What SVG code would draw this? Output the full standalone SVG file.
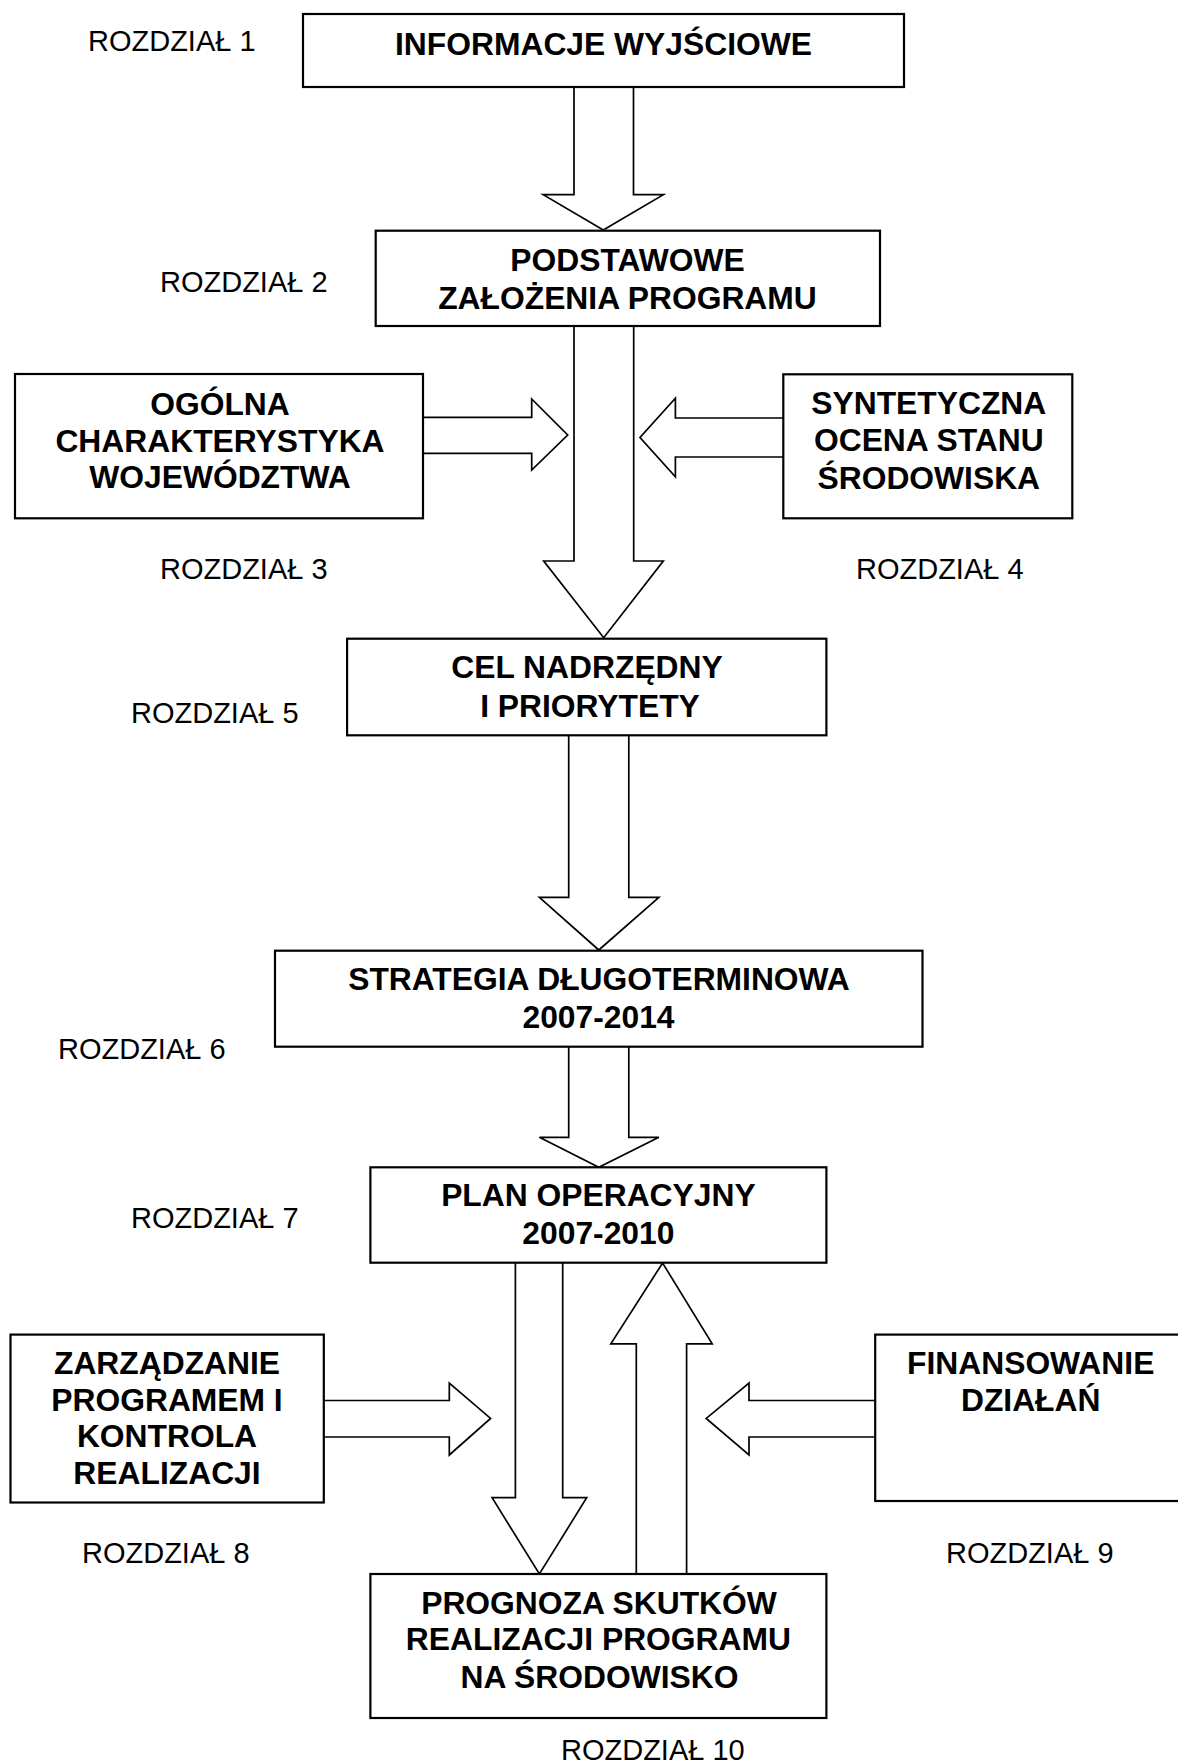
<svg xmlns="http://www.w3.org/2000/svg" width="1178" height="1764" viewBox="0 0 1178 1764">
<style>
.box{fill:#fff;stroke:#000;stroke-width:2.2}
.arr{fill:#fff;stroke:#000;stroke-width:1.7;stroke-linejoin:miter}
.t{font-family:"Liberation Sans",Arial,sans-serif;font-weight:bold;font-size:31.8px;text-anchor:middle;fill:#000}
.r{font-family:"Liberation Sans",Arial,sans-serif;font-size:29px;fill:#000}
</style>
<rect width="1178" height="1764" fill="#fff"/>
<g id="connectors">
<path class="arr" d="M574 87 V194.7 H543.2 L603.3 230 L663.4 194.7 H633.5 V87"/>
<path class="arr" d="M574 326 V561 H543.7 L603.7 637.7 L663.3 561 H633.7 V326"/>
<path class="arr" d="M423 417.3 H531.7 V399 L567.7 435 L531.7 470 V453.3 H423"/>
<path class="arr" d="M783.3 418 H675.4 V398.3 L640 437.5 L675.4 476.7 V457 H783.3"/>
<path class="arr" d="M568.7 735.3 V897.3 H539.4 L598.8 950 L658.9 897.3 H628.8 V735.3"/>
<path class="arr" d="M568.7 1046.7 V1137.3 H539.4 L598.8 1167.3 L658.9 1137.3 H628.8 V1046.7"/>
<path class="arr" d="M515.4 1262.7 V1497.7 H492.1 L539.4 1574 L586.7 1497.7 H562.7 V1262.7"/>
<path class="arr" d="M636.3 1574 V1343.9 H610.8 L662.6 1263 L712.2 1343.9 H686.6 V1574"/>
<path class="arr" d="M323.8 1400.5 H449.3 V1383 L490.6 1418.4 L449.3 1455 V1437 H323.8"/>
<path class="arr" d="M875.2 1400.5 H749 V1383 L706.2 1418.4 L749 1455 V1437 H875.2"/>
</g>
<g id="n1">
<rect class="box" x="303" y="14" width="601" height="73"/>
<text class="t" x="603.5" y="55">INFORMACJE WYJŚCIOWE</text>
</g>
<g id="n2">
<rect class="box" x="375.7" y="230.7" width="504.3" height="95.3"/>
<text class="t" x="627.5" y="270.7">PODSTAWOWE</text>
<text class="t" x="627.5" y="309">ZAŁOŻENIA PROGRAMU</text>
</g>
<g id="n3">
<rect class="box" x="15" y="374" width="408" height="144.3"/>
<text class="t" x="220" y="415">OGÓLNA</text>
<text class="t" x="220" y="451.7">CHARAKTERYSTYKA</text>
<text class="t" x="220" y="488.3">WOJEWÓDZTWA</text>
</g>
<g id="n4">
<rect class="box" x="783.3" y="374.3" width="289" height="144"/>
<text class="t" x="928.8" y="414">SYNTETYCZNA</text>
<text class="t" x="928.8" y="451.3">OCENA STANU</text>
<text class="t" x="928.8" y="489">ŚRODOWISKA</text>
</g>
<g id="n5">
<rect class="box" x="347.1" y="638.7" width="479.3" height="96.6"/>
<text class="t" x="587" y="678.3">CEL NADRZĘDNY</text>
<text class="t" x="590" y="716.7">I PRIORYTETY</text>
</g>
<g id="n6">
<rect class="box" x="275" y="950.7" width="647.5" height="96"/>
<text class="t" x="599" y="990">STRATEGIA DŁUGOTERMINOWA</text>
<text class="t" x="598.5" y="1028.3">2007-2014</text>
</g>
<g id="n7">
<rect class="box" x="370.4" y="1167.3" width="456" height="95.4"/>
<text class="t" x="598.4" y="1206">PLAN OPERACYJNY</text>
<text class="t" x="598.4" y="1244">2007-2010</text>
</g>
<g id="n8">
<rect class="box" x="10.5" y="1334.6" width="313.3" height="167.9"/>
<text class="t" x="167" y="1373.7">ZARZĄDZANIE</text>
<text class="t" x="167" y="1410.9">PROGRAMEM I</text>
<text class="t" x="167" y="1447.4">KONTROLA</text>
<text class="t" x="167" y="1483.5">REALIZACJI</text>
</g>
<g id="n9">
<rect class="box" x="875.2" y="1334.6" width="312" height="166.4"/>
<text class="t" x="1030.7" y="1373.7">FINANSOWANIE</text>
<text class="t" x="1030.7" y="1410.9">DZIAŁAŃ</text>
</g>
<g id="n10">
<rect class="box" x="370.4" y="1574" width="456" height="144"/>
<text class="t" x="599" y="1613.9">PROGNOZA SKUTKÓW</text>
<text class="t" x="598.4" y="1650">REALIZACJI PROGRAMU</text>
<text class="t" x="599.5" y="1688.4">NA ŚRODOWISKO</text>
</g>
<g id="labels">
<text class="r" x="88" y="50.7">ROZDZIAŁ 1</text>
<text class="r" x="160" y="291.7">ROZDZIAŁ 2</text>
<text class="r" x="160" y="579.3">ROZDZIAŁ 3</text>
<text class="r" x="856" y="579.3">ROZDZIAŁ 4</text>
<text class="r" x="131" y="723.3">ROZDZIAŁ 5</text>
<text class="r" x="58" y="1059.3">ROZDZIAŁ 6</text>
<text class="r" x="131" y="1227.7">ROZDZIAŁ 7</text>
<text class="r" x="82" y="1562.9">ROZDZIAŁ 8</text>
<text class="r" x="946" y="1562.9">ROZDZIAŁ 9</text>
<text class="r" x="561" y="1760">ROZDZIAŁ 10</text>
</g>
</svg>
